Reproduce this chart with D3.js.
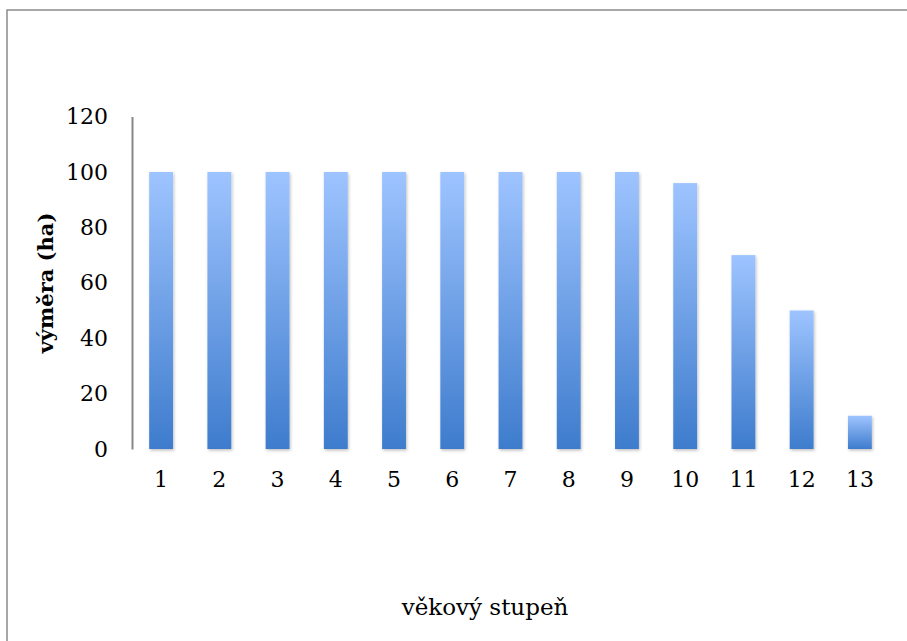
<!DOCTYPE html>
<html>
<head>
<meta charset="utf-8">
<script src="https://cdn.jsdelivr.net/npm/d3@7"></script>
<style>
  html, body { margin: 0; padding: 0; background: #fff; }
  svg { display: block; }
</style>
</head>
<body>
<svg id="chart" width="907" height="641"></svg>
<script>
// Area (ha) per age class
const categories = ["1","2","3","4","5","6","7","8","9","10","11","12","13"];
const values = [100, 100, 100, 100, 100, 100, 100, 100, 100, 96, 70, 50, 12];
const yTicks = [0, 20, 40, 60, 80, 100, 120];
const xTitle = "věkový stupeň";
const yTitle = "výměra (ha)";

const svg = d3.select("#chart");
const font = "'DejaVu Serif', 'Liberation Serif', serif";

// outer frame
svg.append("rect")
  .attr("x", 7).attr("y", 10)
  .attr("width", 920).attr("height", 660)
  .attr("fill", "none").attr("stroke", "#8c8c8c").attr("stroke-width", 1.5);

const plotLeft = 132, plotRight = 889, plotTop = 116.6, plotBottom = 449;

const x = d3.scaleBand().domain(categories).range([plotLeft, plotRight]).paddingInner(0.59).paddingOuter(0.295);
const y = d3.scaleLinear().domain([0, 120]).range([plotBottom, plotTop]);

const defs = svg.append("defs");
const grad = defs.append("linearGradient")
  .attr("id", "barFill").attr("x1", 0).attr("y1", 0).attr("x2", 0).attr("y2", 1);
grad.append("stop").attr("offset", "0%").attr("stop-color", "#9ec4ff");
grad.append("stop").attr("offset", "100%").attr("stop-color", "#3e7ccd");

const shadow = defs.append("filter").attr("id", "shadow")
  .attr("x", "-20%").attr("y", "-5%").attr("width", "150%").attr("height", "115%");
shadow.append("feDropShadow")
  .attr("dx", 1).attr("dy", 1.5).attr("stdDeviation", 1.5)
  .attr("flood-color", "#000").attr("flood-opacity", 0.25);

// bars
svg.append("g").selectAll("rect")
  .data(values)
  .join("rect")
  .attr("x", (d, i) => x(categories[i]))
  .attr("y", d => y(d))
  .attr("width", x.bandwidth())
  .attr("height", d => y(0) - y(d))
  .attr("fill", "url(#barFill)")
  .attr("filter", "url(#shadow)");

// y axis
const yAxis = svg.append("g")
  .attr("transform", `translate(${plotLeft},0)`)
  .call(d3.axisLeft(y).tickValues(yTicks).tickSize(0).tickPadding(24));
yAxis.select(".domain").attr("stroke", "#878787").attr("stroke-width", 2);
yAxis.selectAll("text")
  .attr("font-family", font).attr("font-size", 22).attr("fill", "#000");

// x axis
const xAxis = svg.append("g")
  .attr("transform", `translate(0,${plotBottom})`)
  .call(d3.axisBottom(x).tickSize(0).tickPadding(22));
xAxis.select(".domain").attr("stroke", "#878787").attr("stroke-width", 2.5)
  .attr("filter", "url(#shadow)");
xAxis.selectAll("text")
  .attr("font-family", font).attr("font-size", 22).attr("fill", "#000");

// axis titles
svg.append("text")
  .attr("x", 485).attr("y", 615)
  .attr("text-anchor", "middle")
  .attr("font-family", font).attr("font-size", 23)
  .text(xTitle);

svg.append("text")
  .attr("transform", "translate(53,283) rotate(-90)")
  .attr("text-anchor", "middle")
  .attr("font-family", font).attr("font-size", 21).attr("font-weight", "bold")
  .text(yTitle);
</script>
</body>
</html>
